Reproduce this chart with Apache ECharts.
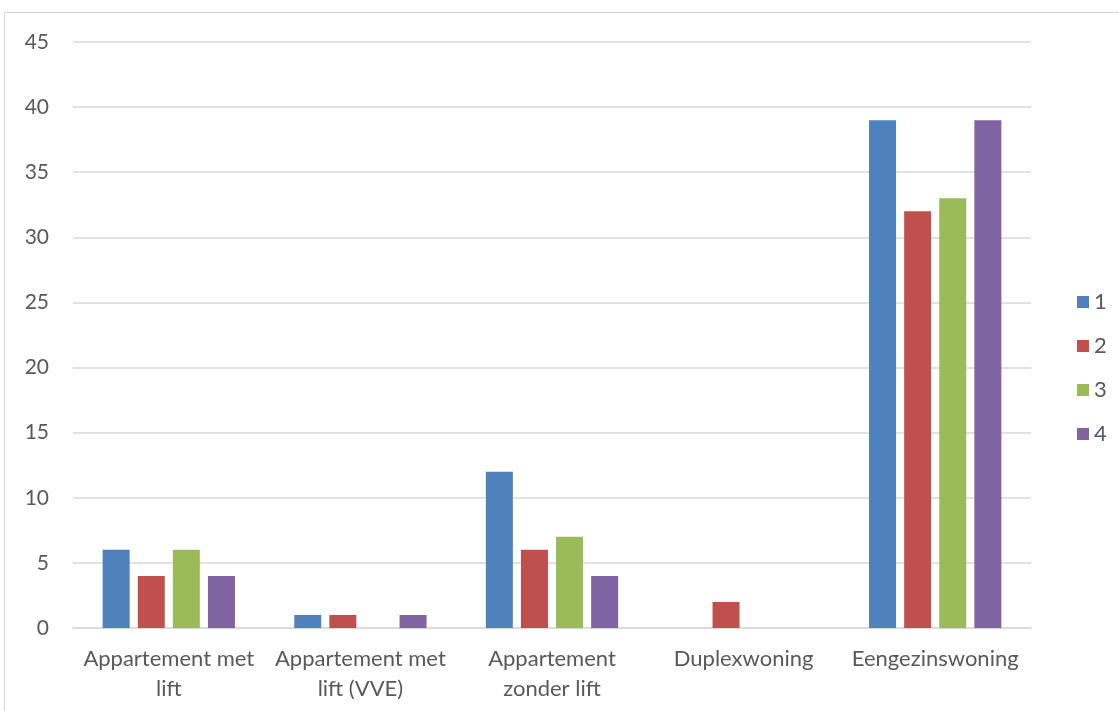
<!DOCTYPE html>
<html><head><meta charset="utf-8">
<script src="https://cdn.jsdelivr.net/npm/echarts@6/dist/echarts.min.js"></script>
<style>
html,body{margin:0;padding:0;background:#fff;overflow:hidden}
#frame{position:absolute;left:4px;top:12px;width:1300px;height:900px;border:1.5px solid #d9d9d9;box-sizing:border-box}
#c{position:absolute;left:0;top:0;width:1119px;height:711px}
</style></head>
<body>
<div id="frame"></div>
<div id="c"></div>
<script>
var categories = ['Appartement met\nlift','Appartement met\nlift (VVE)','Appartement\nzonder lift','Duplexwoning','Eengezinswoning'];
var seriesNames = ['1','2','3','4'];
var s1 = [6, 1, 12, 0, 39];
var s2 = [4, 1, 6, 2, 32];
var s3 = [6, 0, 7, 0, 33];
var s4 = [4, 1, 4, 0, 39];
var colors = ['#4F81BD','#C0504D','#9BBB59','#8064A2'];
var font = 'Lato, "Open Sans", sans-serif';
var chart = echarts.init(document.getElementById('c'), null, {renderer:'canvas'});
var data = [s1,s2,s3,s4];
chart.setOption({
  animation:false,
  color: colors,
  grid:{left:73,right:88,top:42,bottom:83,containLabel:false},
  legend:{
    orient:'vertical', left:1072, top:286, itemWidth:12, itemHeight:12, itemGap:22,
    icon:'rect',
    textStyle:{fontFamily:font,fontSize:22,color:'#595959'},
    data:seriesNames
  },
  xAxis:{
    type:'category', data:categories,
    axisLine:{lineStyle:{color:'#d9d9d9',width:1.5}},
    axisTick:{show:false},
    axisLabel:{fontFamily:font,fontSize:22,color:'#595959',margin:16,lineHeight:30,interval:0}
  },
  yAxis:{
    type:'value', min:0, max:45, interval:5,
    axisLine:{show:false}, axisTick:{show:false},
    splitLine:{lineStyle:{color:'#d9d9d9',width:1.5}},
    axisLabel:{fontFamily:font,fontSize:21,color:'#595959',margin:24}
  },
  series: seriesNames.map(function(n,i){
    return {name:n,type:'bar',data:data[i],barWidth:27,barGap:'30%'};
  })
});
</script>
</body></html>
